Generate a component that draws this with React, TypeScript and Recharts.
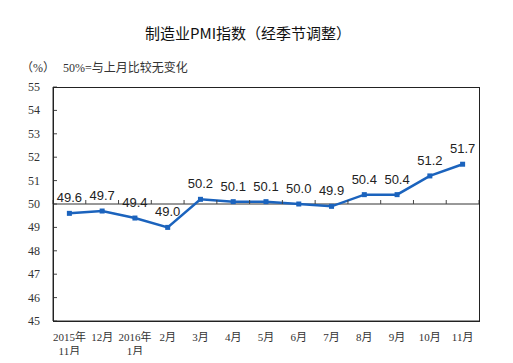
import React from 'react';
import { LineChart, Line, XAxis, YAxis, ReferenceLine, LabelList } from 'recharts';

const months = ['2015年\n11月', '12月', '2016年\n1月', '2月', '3月', '4月', '5月', '6月', '7月', '8月', '9月', '10月', '11月'];
const pmi = [49.6, 49.7, 49.4, 49.0, 50.2, 50.1, 50.1, 50.0, 49.9, 50.4, 50.4, 51.2, 51.7];
const yTicks = [45, 46, 47, 48, 49, 50, 51, 52, 53, 54, 55];

const data = months.map((m, i) => ({ month: m, value: pmi[i] }));

const W = 513;
const H = 363;
const PLOT_LEFT = 53;
const PLOT_RIGHT = 479;
const PLOT_TOP = 87;
const PLOT_BOTTOM = 321;
const BAND = (PLOT_RIGHT - PLOT_LEFT) / months.length;
const Y50 = PLOT_TOP + ((55 - 50) / 10) * (PLOT_BOTTOM - PLOT_TOP);

const serif = '"Liberation Serif", "Noto Sans CJK SC", serif';
const sans = '"Liberation Sans", Arial, sans-serif';

const YTick = (props: any) => {
  const { y, payload } = props;
  return (
    <g>
      <text x={40} y={y + 4} textAnchor="end" fontSize={12} fill="#333" fontFamily={serif}>
        {payload.value}
      </text>
      <line x1={PLOT_LEFT} x2={PLOT_LEFT + 4} y1={y} y2={y} stroke="#444" strokeWidth={1} />
    </g>
  );
};

const XTick = (props: any) => {
  const { x, payload, index } = props;
  const lines = String(payload.value).split('\n');
  const left = x - BAND / 2;
  return (
    <g>
      <line x1={left} x2={left} y1={Y50} y2={Y50 - 4} stroke="#444" strokeWidth={1} />
      {index === months.length - 1 && (
        <line x1={left + BAND} x2={left + BAND} y1={Y50} y2={Y50 - 4} stroke="#444" strokeWidth={1} />
      )}
      {lines.map((t, i) => (
        <text key={i} x={x} y={341 + i * 14} textAnchor="middle" fontSize={11} fill="#333" fontFamily={serif}>
          {t}
        </text>
      ))}
    </g>
  );
};

const SquareDot = (props: any) => {
  const { cx, cy } = props;
  if (cx == null || cy == null) return null;
  return <rect x={cx - 2.5} y={cy - 2.5} width={5} height={5} fill="#1b63bd" />;
};

export default function App() {
  return (
    <div style={{ margin: -8, width: W, height: H, position: 'relative', background: '#fff' }}>
      <div
        style={{
          position: 'absolute', left: 0, top: 22, width: 496, textAlign: 'center',
          fontSize: 15, color: '#111', fontFamily: '"Noto Sans CJK SC", sans-serif',
        }}
      >
        制造业PMI指数（经季节调整）
      </div>
      <div style={{ position: 'absolute', left: 21, top: 58, fontSize: 12, color: '#333', fontFamily: serif }}>
        （%）
      </div>
      <div style={{ position: 'absolute', left: 63, top: 58, fontSize: 12, color: '#333', fontFamily: serif }}>
        50%=与上月比较无变化
      </div>
      <div style={{ position: 'absolute', left: 0, top: 0 }}>
        <LineChart
          width={W}
          height={H}
          data={data}
          margin={{ top: PLOT_TOP, right: W - PLOT_RIGHT, bottom: 0, left: 0 }}
        >
          <XAxis
            dataKey="month"
            scale="band"
            axisLine={{ stroke: '#333' }}
            tickLine={false}
            interval={0}
            height={H - PLOT_BOTTOM}
            tick={<XTick />}
          />
          <YAxis
            domain={[45, 55]}
            ticks={yTicks}
            width={PLOT_LEFT}
            axisLine={{ stroke: '#333' }}
            tickLine={false}
            interval={0}
            tick={<YTick />}
          />
          <ReferenceLine y={50} stroke="#333" strokeWidth={1} />
          <Line
            type="linear"
            dataKey="value"
            stroke="#1b63bd"
            strokeWidth={2.5}
            dot={<SquareDot />}
            activeDot={false}
            isAnimationActive={false}
          >
            <LabelList
              dataKey="value"
              position="top"
              offset={11}
              fontSize={13}
              fill="#222"
              fontFamily={sans}
              formatter={(v: any) => Number(v).toFixed(1)}
            />
          </Line>
        </LineChart>
      </div>
      {/* plot frame as a plain svg rectangle */}
      <svg
        width={W}
        height={H}
        style={{ position: 'absolute', left: 0, top: 0, pointerEvents: 'none' }}
      >
        <rect
          x={PLOT_LEFT + 0.5}
          y={PLOT_TOP + 0.5}
          width={PLOT_RIGHT - PLOT_LEFT}
          height={PLOT_BOTTOM - PLOT_TOP}
          fill="none"
          stroke="#222"
          strokeWidth={1}
        />
      </svg>
    </div>
  );
}
